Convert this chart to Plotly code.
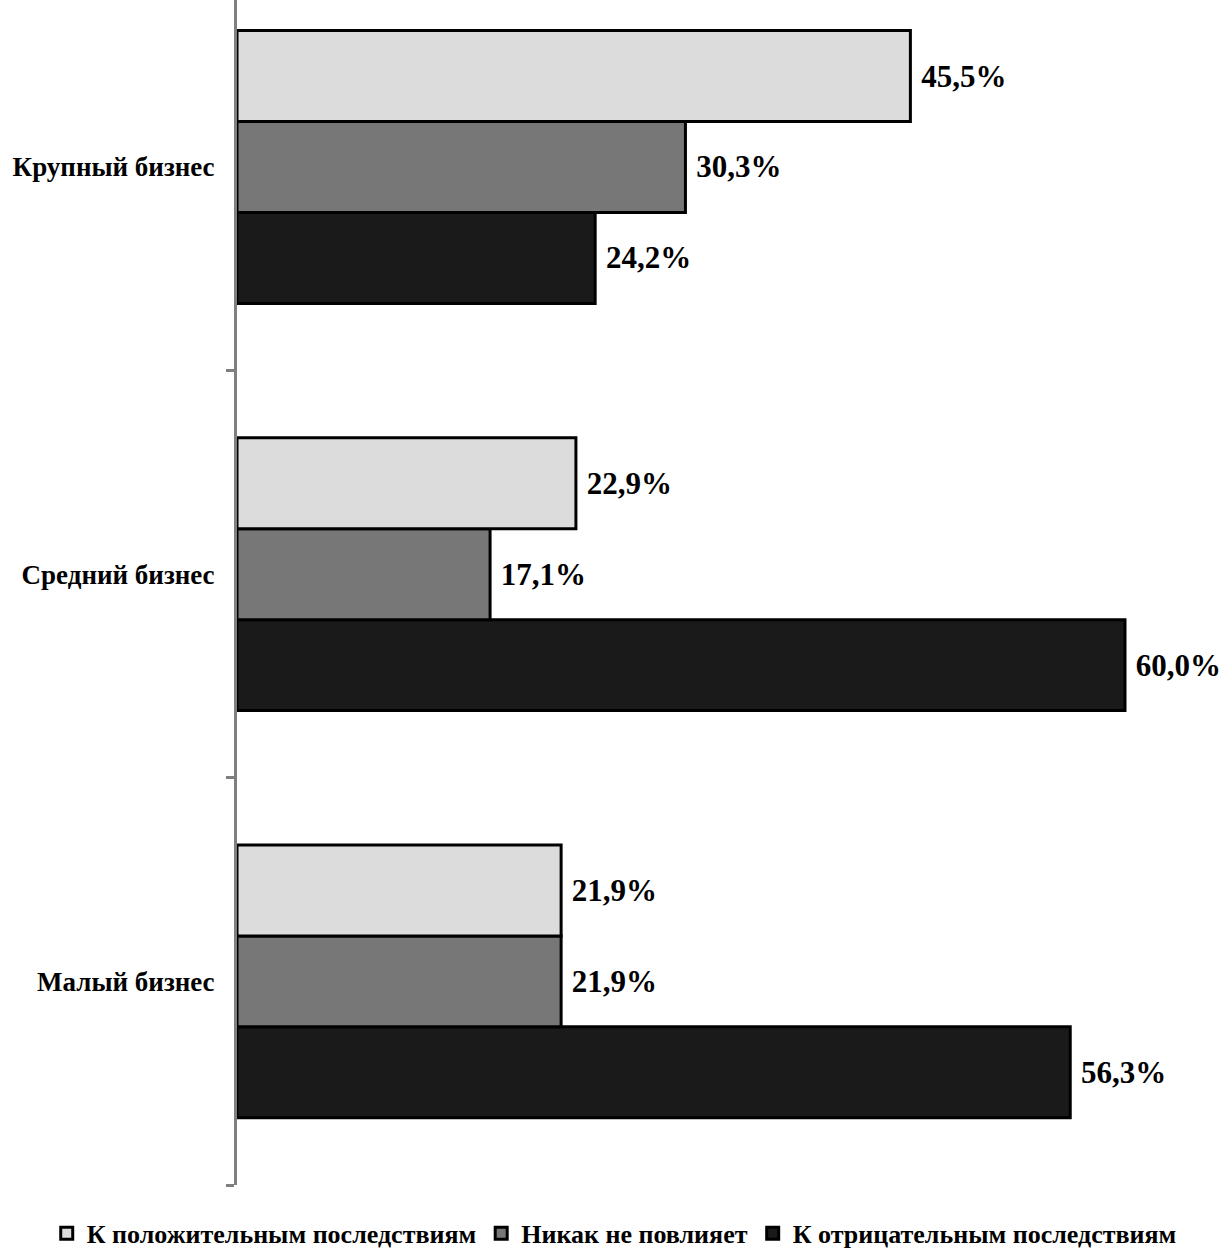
import plotly.graph_objects as go

categories = ["Малый бизнес", "Средний бизнес", "Крупный бизнес"]
series_names = ["К положительным последствиям", "Никак не повлияет", "К отрицательным последствиям"]
positive = [21.9, 22.9, 45.5]
neutral = [21.9, 17.1, 30.3]
negative = [56.3, 60.0, 24.2]
colors = ["#dcdcdc", "#777777", "#1a1a1a"]

FONT = "Liberation Serif"
fig = go.Figure()
# add in reverse order so the light bar sits on top of each group
for name, vals, col in reversed(list(zip(series_names, [positive, neutral, negative], colors))):
    fig.add_trace(go.Bar(
        y=categories, x=vals, name=f"<b>{name}</b>", orientation="h",
        marker=dict(color=col, line=dict(color="#000000", width=3)),
        text=vals, texttemplate=" <b>%{x:.1f}%</b>", textposition="outside",
        textfont=dict(family=FONT, size=31, color="#000000"),
        constraintext="none", cliponaxis=False,
    ))

fig.update_layout(
    width=1228, height=1260,
    margin=dict(l=237, r=0, t=0, b=75, autoexpand=False),
    paper_bgcolor="white", plot_bgcolor="white",
    barmode="group", bargap=0.33, bargroupgap=0,
    separators=", ",
    font=dict(family=FONT, color="#000000"),
    showlegend=True,
    legend=dict(orientation="h", traceorder="reversed",
                xref="paper", yref="paper", x=-0.192, xanchor="left",
                y=-0.021, yanchor="top",
                font=dict(family=FONT, size=26, color="#000000"),
                itemwidth=30, tracegroupgap=0),
    xaxis=dict(range=[0, 66.96], visible=False, showgrid=False, zeroline=False,
               automargin=False),
    yaxis=dict(range=[-0.5, 2.41], showline=True, linecolor="#808080", linewidth=3,
               ticks="outside", ticklen=8, tickwidth=3, tickcolor="#808080",
               tickson="boundaries", showgrid=False, automargin=False,
               tickfont=dict(family=FONT, size=27, color="#000000"),
               ticklabelstandoff=14),
)
fig.for_each_yaxis(lambda a: a.update(tickvals=categories, ticktext=[f"<b>{c}</b>" for c in categories]))
fig.write_html("out.html", config={"displayModeBar": False},
               post_script="document.body.style.margin='0';")
